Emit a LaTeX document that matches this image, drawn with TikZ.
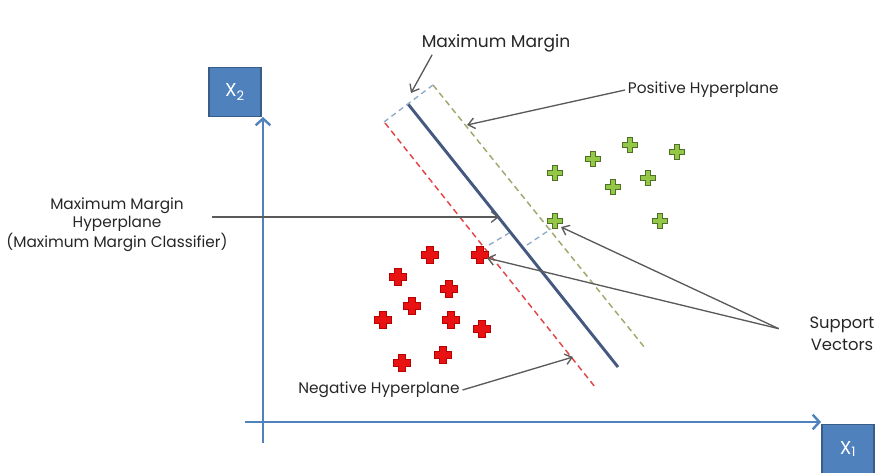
\documentclass[tikz,border=0pt]{standalone}
\usepackage{fontspec}
\setmainfont{Poppins}
\usepackage{tikz}
\usetikzlibrary{arrows.meta,calc,positioning}

\definecolor{axisblue}{RGB}{79,129,189}
\definecolor{boxedge}{RGB}{56,93,138}
\definecolor{planeblue}{RGB}{68,88,128}
\definecolor{negred}{RGB}{226,70,70}
\definecolor{posolive}{RGB}{160,168,110}
\definecolor{gapblue}{RGB}{140,170,200}
\definecolor{callgray}{RGB}{90,90,90}
\definecolor{redfill}{RGB}{232,18,18}
\definecolor{rededge}{RGB}{185,0,0}
\definecolor{greenfill}{RGB}{146,200,70}
\definecolor{greenedge}{RGB}{80,110,40}

\tikzset{
    axis/.style={line width=2.2pt,color=axisblue,-{Straight Barb[length=5pt,width=11pt,line width=1.8pt]}},
    axisbox/.style={draw=boxedge,line width=1pt,fill=axisblue,text=white,minimum width=39pt,minimum height=37pt,inner sep=0pt,font=\fontsize{14}{16}\selectfont},
    label/.style={text=black!85,font=\fontsize{11.5}{13.5}\selectfont,inner sep=2pt},
    callout/.style={color=callgray,line width=1pt,-{Straight Barb[length=5pt,width=8pt]}},
    gap/.style={color=gapblue,line width=1pt,dash pattern=on 4pt off 3pt}
}

\begin{document}
\begin{tikzpicture}[x=0.75pt,y=-0.75pt]
    \useasboundingbox (0,0) rectangle (879,473);
    % Axes
    \coordinate (ybot) at (263,443);
    \coordinate (ytip) at (263,117);
    \coordinate (xleft) at (245,422);
    \coordinate (xtip) at (821,422);
    \draw[axis] (ybot) -- (ytip);
    \draw[axis] (xleft) -- (xtip);
    \node[axisbox] (x2) at (235,92) {X\textsubscript{2}};
    \node[axisbox] (x1) at (848,449) {X\textsubscript{1}};
    % Hyperplanes
    \draw[negred,line width=1.1pt,dash pattern=on 4.5pt off 3pt] (385,123) -- (595,387);
    \draw[posolive,line width=1.1pt,dash pattern=on 4.5pt off 3pt] (433,85) -- (645,348);
    \draw[planeblue,line width=2.2pt] (408,104) -- (618,367);
    % Margin gaps
    \draw[gap] (384,122) -- (433,85);
    \draw[gap] (489,245) -- (509,233);
    \draw[gap] (527,245) -- (551,229);
    % Negative class
    \foreach \x/\y in {430/255,480/255,398/277,449/289,412/306,383/320,451/320,482/329,443/355,402/363}
        \filldraw[fill=redfill,draw=rededge,line width=0.5pt]
            (\x,\y) ++(-3.2,-8.5) -- ++(6.4,0) -- ++(0,5.3) -- ++(5.3,0) -- ++(0,6.4) -- ++(-5.3,0)
            -- ++(0,5.3) -- ++(-6.4,0) -- ++(0,-5.3) -- ++(-5.3,0) -- ++(0,-6.4) -- ++(5.3,0) -- cycle;
    % Positive class
    \foreach \x/\y in {630/145,677/152,593/159,555/173,648/178,613/187,660/221,555/221}
        \filldraw[fill=greenfill,draw=greenedge,line width=0.9pt]
            (\x,\y) ++(-2.8,-7.5) -- ++(5.6,0) -- ++(0,4.7) -- ++(4.7,0) -- ++(0,5.6) -- ++(-4.7,0)
            -- ++(0,4.7) -- ++(-5.6,0) -- ++(0,-4.7) -- ++(-4.7,0) -- ++(0,-5.6) -- ++(4.7,0) -- cycle;
    % Labels
    \node[label,font=\fontsize{12.8}{15}\selectfont] (mmlabel) at (496,43) {Maximum Margin};
    \node[label,anchor=west] (poslabel) at (625,90) {Positive Hyperplane};
    \node[label,align=center] (mmhlabel) at (117,225) {Maximum Margin\\Hyperplane\\(Maximum Margin Classifier)};
    \node[label,align=center,font=\fontsize{12.3}{16.5}\selectfont] (svlabel) at (842,334) {Support\\Vectors};
    \node[label] (neglabel) at (379,390) {Negative Hyperplane};
    % Arrow targets
    \coordinate (mmtip) at (411,93);
    \coordinate (postip) at (467,125);
    \coordinate (mmhtip) at (499,217);
    \coordinate (svpos) at (561,227);
    \coordinate (svneg) at (487,258);
    \coordinate (negtip) at (573,357);
    % Callouts
    \draw[callout] ([xshift=10pt]mmlabel.south west) -- (mmtip);
    \draw[callout] (poslabel.west) -- (postip);
    \draw[callout] ([xshift=-14pt,yshift=6pt]mmhlabel.east) -- (mmhtip);
    \draw[callout] ([xshift=-21pt,yshift=4pt]svlabel.west) -- (svpos);
    \draw[callout] ([xshift=-21pt,yshift=4pt]svlabel.west) -- (svneg);
    \draw[callout] (neglabel.east) -- (negtip);
\end{tikzpicture}
\end{document}
